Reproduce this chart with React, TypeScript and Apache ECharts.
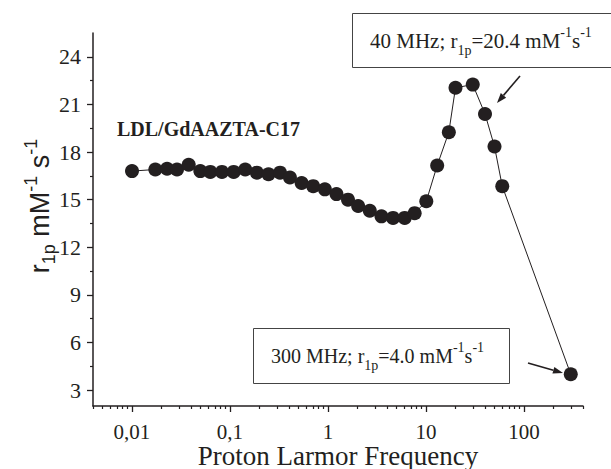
import React, { useEffect, useRef } from "react";
import * as echarts from "echarts";

// Proton Larmor frequency (MHz) and relaxivity r1p (mM^-1 s^-1)
const freqs: number[] = [
  0.01, 0.0173, 0.0228, 0.0288, 0.0379, 0.0498, 0.063, 0.0828, 0.109, 0.143,
  0.188, 0.247, 0.324, 0.409, 0.538, 0.706, 0.929, 1.22, 1.6, 2.03, 2.67,
  3.51, 4.61, 6.06, 7.66, 10.07, 13.0, 17.1, 20, 30, 40, 50, 60, 300,
];
const r1p: number[] = [
  16.8, 16.9, 16.95, 16.9, 17.2, 16.8, 16.75, 16.75, 16.75, 16.9, 16.7, 16.6,
  16.7, 16.4, 16.05, 15.85, 15.65, 15.35, 15.0, 14.6, 14.3, 13.95, 13.85,
  13.85, 14.15, 14.9, 17.15, 19.25, 22.05, 22.25, 20.4, 18.35, 15.85, 4.0,
];

const xMajorTicks: number[] = [0.01, 0.1, 1, 10, 100];
const xTickLabels: string[] = ["0,01", "0,1", "1", "10", "100"];
const xMinorTicks: number[] = [
  0.004, 0.005, 0.006, 0.007, 0.008, 0.009,
  0.02, 0.03, 0.04, 0.05, 0.06, 0.07, 0.08, 0.09,
  0.2, 0.3, 0.4, 0.5, 0.6, 0.7, 0.8, 0.9,
  2, 3, 4, 5, 6, 7, 8, 9,
  20, 30, 40, 50, 60, 70, 80, 90,
  200, 300, 400,
];
const yMajorTicks: number[] = [3, 6, 9, 12, 15, 18, 21, 24];
const yMinorTicks: number[] = [4.5, 7.5, 10.5, 13.5, 16.5, 19.5, 22.5];

const INK = "#231f20";
const SERIF = "Liberation Serif";
const NARROW = '"Liberation Sans Narrow", "Liberation Sans", sans-serif';

function arrow(x1: number, y1: number, x2: number, y2: number) {
  const dx = x2 - x1;
  const dy = y2 - y1;
  const len = Math.sqrt(dx * dx + dy * dy);
  const ux = dx / len;
  const uy = dy / len;
  const hl = 10;
  const hw = 3.5;
  const bx = x2 - ux * hl;
  const by = y2 - uy * hl;
  const nx = -uy;
  const ny = ux;
  return [
    {
      type: "line",
      shape: { x1, y1, x2: bx, y2: by },
      style: { stroke: INK, lineWidth: 1.6 },
      z: 100,
    },
    {
      type: "polygon",
      shape: {
        points: [
          [x2, y2],
          [bx + nx * hw, by + ny * hw],
          [bx - nx * hw, by - ny * hw],
        ],
      },
      style: { fill: INK },
      z: 100,
    },
  ];
}

function boxRich(size: number, small: number) {
  return {
    n: { fontFamily: SERIF, fontSize: size, lineHeight: 32, verticalAlign: "middle", fill: INK },
    sub: { fontFamily: SERIF, fontSize: small, lineHeight: 14, verticalAlign: "bottom", fill: INK },
    sup: { fontFamily: SERIF, fontSize: small, lineHeight: 14, verticalAlign: "top", fill: INK },
  };
}

export default function App() {
  const ref = useRef<HTMLDivElement>(null);

  useEffect(() => {
    if (!ref.current) return;
    const chart = echarts.init(ref.current, null, { renderer: "svg" });
    const data = freqs.map((f, i) => [f, r1p[i]]);

    chart.setOption({
      animation: false,
      backgroundColor: "#ffffff",
      grid: {
        left: 93,
        top: 33,
        width: 490,
        height: 373,
        containLabel: false,
        outerBoundsMode: "none",
      },
      xAxis: [
        {
          type: "log",
          logBase: 10,
          min: 0.004,
          max: 400,
          position: "bottom",
          name: "Proton Larmor Frequency",
          nameLocation: "middle",
          nameGap: 37,
          nameMoveOverlap: false,
          nameTextStyle: { fontFamily: SERIF, fontSize: 27, lineHeight: 26, color: INK },
          axisLine: { show: true, lineStyle: { color: INK, width: 1.5 } },
          axisTick: {
            show: true,
            inside: false,
            length: 6,
            customValues: xMajorTicks,
            lineStyle: { color: INK, width: 1.3 },
          },
          minorTick: { show: false },
          axisLabel: {
            show: true,
            margin: 15,
            customValues: xMajorTicks,
            fontFamily: SERIF,
            fontSize: 21,
            lineHeight: 21,
            color: INK,
            formatter: (v: number) => {
              const i = xMajorTicks.findIndex((t) => Math.abs(Math.log10(t) - Math.log10(v)) < 1e-6);
              return i >= 0 ? xTickLabels[i] : "";
            },
          },
          splitLine: { show: false },
        },
        {
          type: "log",
          logBase: 10,
          min: 0.004,
          max: 400,
          position: "bottom",
          axisLine: { show: false },
          axisTick: {
            show: true,
            inside: false,
            length: 3,
            customValues: xMinorTicks,
            lineStyle: { color: INK, width: 1.2 },
          },
          axisLabel: { show: false },
          splitLine: { show: false },
        },
      ],
      yAxis: [
        {
          type: "value",
          min: 2,
          max: 25.5,
          position: "left",
          axisLine: { show: true, lineStyle: { color: INK, width: 1.5 } },
          axisTick: {
            show: true,
            inside: false,
            length: 6,
            customValues: yMajorTicks,
            lineStyle: { color: INK, width: 1.3 },
          },
          axisLabel: {
            show: true,
            margin: 12,
            customValues: yMajorTicks,
            fontFamily: SERIF,
            fontSize: 22,
            color: INK,
          },
          splitLine: { show: false },
        },
        {
          type: "value",
          min: 2,
          max: 25.5,
          position: "left",
          axisLine: { show: false },
          axisTick: {
            show: true,
            inside: false,
            length: 3,
            customValues: yMinorTicks,
            lineStyle: { color: INK, width: 1.2 },
          },
          axisLabel: { show: false },
          splitLine: { show: false },
        },
      ],
      series: [
        {
          type: "line",
          xAxisIndex: 0,
          yAxisIndex: 0,
          data,
          symbol: "circle",
          symbolSize: 14,
          showSymbol: true,
          itemStyle: { color: INK },
          lineStyle: { color: INK, width: 1 },
          z: 5,
        },
      ],
      graphic: [
        {
          type: "text",
          x: 40,
          y: 206,
          rotation: Math.PI / 2,
          style: {
            text: "{n|r}{sub|1p}{n| mM}{sup|-1}{n| s}{sup|-1}",
            align: "center",
            verticalAlign: "middle",
            rich: {
              n: { fontFamily: NARROW, fontSize: 27, lineHeight: 36, verticalAlign: "middle", fill: INK },
              sub: { fontFamily: NARROW, fontSize: 18, lineHeight: 17, verticalAlign: "bottom", fill: INK },
              sup: { fontFamily: NARROW, fontSize: 18, lineHeight: 17, verticalAlign: "top", fill: INK },
            },
          },
        },
        {
          type: "text",
          left: 117,
          top: 119,
          style: {
            text: "LDL/GdAAZTA-C17",
            font: 'bold 20px "Liberation Serif"',
            fill: INK,
          },
        },
        {
          type: "rect",
          shape: { x: 352.5, y: 13.5, width: 280, height: 54 },
          style: { fill: "#ffffff", stroke: "#444444", lineWidth: 1 },
          z: 50,
        },
        {
          type: "text",
          x: 370,
          y: 41,
          z: 60,
          style: {
            text: "{n|40 MHz; r}{sub|1p}{n|=20.4 mM}{sup|-1}{n|s}{sup|-1}",
            rich: boxRich(21, 14),
            verticalAlign: "middle",
            align: "left",
          },
        },
        {
          type: "rect",
          shape: { x: 253.5, y: 328.5, width: 256, height: 55 },
          style: { fill: "#ffffff", stroke: "#444444", lineWidth: 1 },
          z: 50,
        },
        {
          type: "text",
          x: 271,
          y: 356,
          z: 60,
          style: {
            text: "{n|300 MHz; r}{sub|1p}{n|=4.0 mM}{sup|-1}{n|s}{sup|-1}",
            rich: boxRich(20, 14),
            verticalAlign: "middle",
            align: "left",
          },
        },
        ...arrow(520, 76, 497, 103),
        ...arrow(528, 363, 563, 373),
      ],
    });

    return () => {
      chart.dispose();
    };
  }, []);

  return (
    <div
      ref={ref}
      style={{ position: "fixed", left: 0, top: 0, width: 611, height: 469, background: "#fff" }}
    />
  );
}
